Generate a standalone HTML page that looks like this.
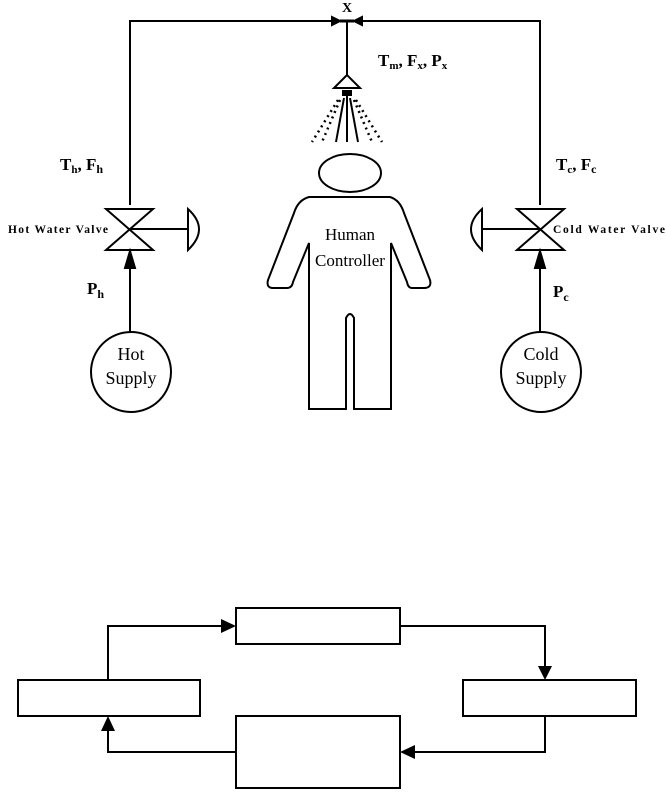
<!DOCTYPE html>
<html><head><meta charset="utf-8"><style>
html,body{margin:0;padding:0;background:#fff;}
svg{display:block;}
text{font-family:"Liberation Serif",serif;fill:#000;}
</style></head><body>
<svg width="666" height="806" viewBox="0 0 666 806" xmlns="http://www.w3.org/2000/svg">
<g stroke="#000" stroke-width="2" fill="none">
<polyline points="130,205 130,21 540,21 540,205"/>
<path d="M332,17 L340,21 L332,25 Z M362,17 L354,21 L362,25 Z" fill="#000"/>
<line x1="340" y1="21" x2="354" y2="21" stroke-width="3"/>
<line x1="347" y1="21" x2="347" y2="75"/>
<path d="M347,75 L334,88 L360,88 Z" fill="#fff"/>
<rect x="342" y="90" width="10" height="6" fill="#000" stroke="none"/>
<line x1="347" y1="96" x2="347" y2="142"/>
<line x1="344" y1="98" x2="336" y2="142"/>
<line x1="350" y1="98" x2="358" y2="142"/>
</g>
<g stroke="#000" stroke-width="2.5" stroke-dasharray="2,4" fill="none">
<line x1="340" y1="100" x2="322" y2="142"/>
<line x1="338" y1="100" x2="312" y2="142"/>
<line x1="354" y1="100" x2="372" y2="142"/>
<line x1="356" y1="100" x2="382" y2="142"/>
</g>
<g stroke="#000" stroke-width="2" fill="none">
<path d="M106,209 L153,209 L106,250 L153,250 Z"/>
<line x1="130" y1="229" x2="187" y2="229"/>
<path d="M188,209 Q210,229 188,250 Z"/>
<line x1="130" y1="332" x2="130" y2="260"/>
<path d="M130,251 L125,268 L135,268 Z" fill="#000"/>
<ellipse cx="131" cy="372" rx="40" ry="40"/>
<path d="M517,209 L564,209 L517,250 L564,250 Z"/>
<line x1="483" y1="229" x2="540" y2="229"/>
<path d="M482,209 Q460,229 482,250 Z"/>
<line x1="540" y1="332" x2="540" y2="260"/>
<path d="M540,251 L535,268 L545,268 Z" fill="#000"/>
<ellipse cx="541" cy="372" rx="40" ry="40"/>
<ellipse cx="350" cy="173" rx="31" ry="19"/>
<path d="M309,197 L390,197 Q400,200 404,213 L430,280 Q432,288 424,288 L412,288 Q408,288 407,282 L391,243 L391,409 L354,409 L354,318 Q350,310 346,318 L346,409 L309,409 L309,243 L293,282 Q292,288 287,288 L273,288 Q266,288 268,280 L294,213 Q298,200 309,197 Z"/>
<rect x="236" y="608" width="164" height="36"/>
<rect x="18" y="680" width="182" height="36"/>
<rect x="463" y="680" width="173" height="36"/>
<rect x="236" y="716" width="164" height="72"/>
<polyline points="108,680 108,626 222,626"/>
<polyline points="400,626 545,626 545,667"/>
<polyline points="545,716 545,752 414,752"/>
<polyline points="236,752 108,752 108,730"/>
</g>
<g fill="#000">
<path d="M236,626 L221,619 L221,633 Z"/>
<path d="M545,680 L538,666 L552,666 Z"/>
<path d="M400,752 L415,745 L415,759 Z"/>
<path d="M108,716 L101,731 L115,731 Z"/>
</g>
<text x="347" y="12" font-size="14" font-weight="bold" text-anchor="middle">X</text>
<text x="378" y="66" font-size="17" font-weight="bold">T<tspan font-size="11" dy="3">m</tspan><tspan dy="-3">, F</tspan><tspan font-size="11" dy="3">x</tspan><tspan dy="-3">, P</tspan><tspan font-size="11" dy="3">x</tspan></text>
<text x="60" y="170" font-size="17" font-weight="bold">T<tspan font-size="11" dy="3">h</tspan><tspan dy="-3">, F</tspan><tspan font-size="12" dy="3">h</tspan></text>
<text x="556" y="170" font-size="17" font-weight="bold">T<tspan font-size="11" dy="3">c</tspan><tspan dy="-3">, F</tspan><tspan font-size="12" dy="3">c</tspan></text>
<text x="87" y="294" font-size="17" font-weight="bold">P<tspan font-size="12" dy="4">h</tspan></text>
<text x="553" y="297" font-size="17" font-weight="bold">P<tspan font-size="12" dy="4">c</tspan></text>
<text x="8" y="233" font-size="11.5" font-weight="bold" textLength="100">Hot Water Valve</text>
<text x="553" y="233" font-size="11.5" font-weight="bold" textLength="112">Cold Water Valve</text>
<text x="350" y="240" font-size="17" text-anchor="middle">Human</text>
<text x="350" y="266" font-size="17" text-anchor="middle">Controller</text>
<text x="131" y="360" font-size="18" text-anchor="middle">Hot</text>
<text x="131" y="384" font-size="18" text-anchor="middle">Supply</text>
<text x="541" y="360" font-size="18" text-anchor="middle">Cold</text>
<text x="541" y="384" font-size="18" text-anchor="middle">Supply</text>
</svg>
</body></html>
